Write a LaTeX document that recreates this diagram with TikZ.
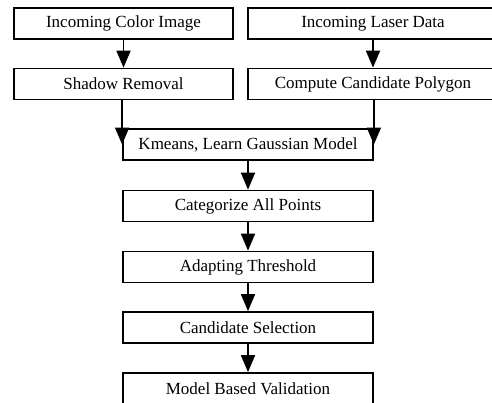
\documentclass[tikz,border=0pt]{standalone}
\usepackage{fontspec}
\setmainfont{Liberation Serif}
\usetikzlibrary{arrows.meta}
\begin{document}
\begin{tikzpicture}[x=1pt,y=-1pt,
  stepbox/.style={draw=black,line width=1.8pt,fill=white,inner sep=0pt,
    minimum width=250pt,minimum height=31pt,font=\fontsize{17}{19}\selectfont},
  narrowbox/.style={stepbox,minimum width=219pt},
  arr/.style={line width=1.8pt,-{Triangle[length=17pt,width=14pt]}}]
\useasboundingbox (0,0) rectangle (492,402);
\clip (0,0) rectangle (492,402);
\node[narrowbox] (A) at (123.5,23.5) {Incoming Color Image};
\node[stepbox]   (B) at (373,23.5)   {Incoming Laser Data};
\node[narrowbox] (C) at (123.5,84)   {Shadow Removal};
\node[stepbox]   (D) at (373,84)     {Compute Candidate Polygon};
\node[stepbox]   (E) at (248,144.5)  {Kmeans, Learn Gaussian Model};
\node[stepbox]   (F) at (248,206)    {Categorize All Points};
\node[stepbox]   (G) at (248,267)    {Adapting Threshold};
\node[stepbox]   (H) at (248,327.5)  {Candidate Selection};
\node[stepbox]   (I) at (248,388.5)  {Model Based Validation};
\draw[arr] (A.south) -- (C.north);
\draw[arr] (B.south) -- (D.north);
\draw[arr] (C.south -| E.west) -- (E.west);
\draw[arr] (D.south -| E.east) -- (E.east);
\draw[arr] (E.south) -- (F.north);
\draw[arr] (F.south) -- (G.north);
\draw[arr] (G.south) -- (H.north);
\draw[arr] (H.south) -- (I.north);
\end{tikzpicture}
\end{document}
